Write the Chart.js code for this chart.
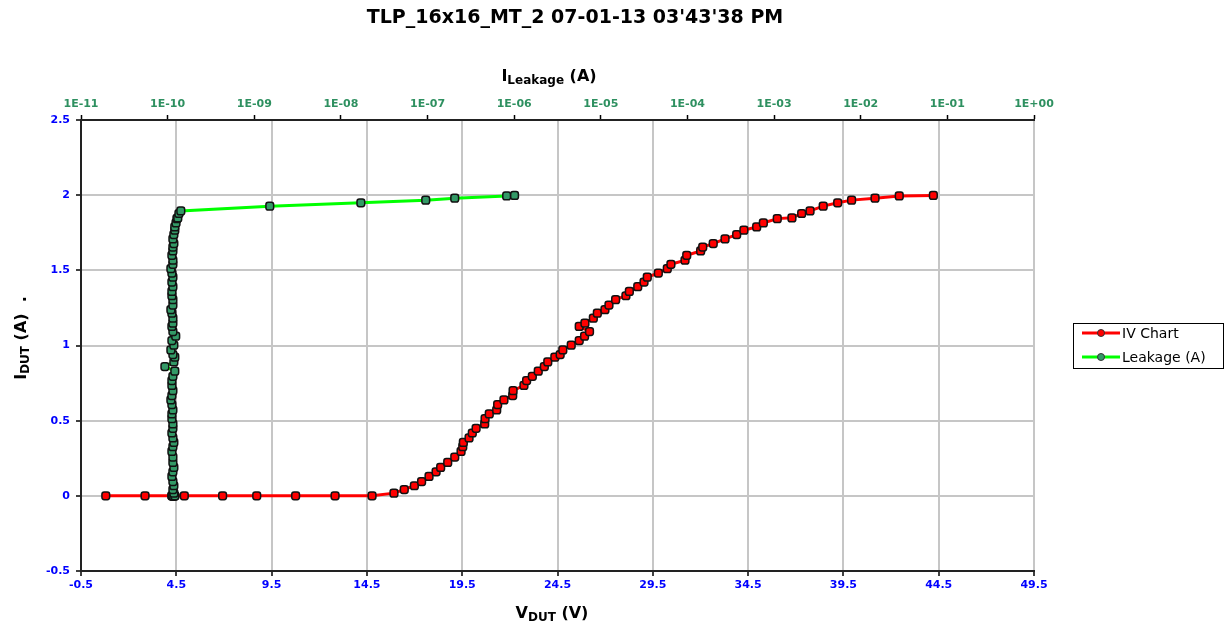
<!DOCTYPE html>
<html>
<head>
<meta charset="utf-8">
<script src="https://cdn.jsdelivr.net/npm/chart.js@4.4.0/dist/chart.umd.min.js"></script>
<style>
  html, body { margin: 0; padding: 0; background: #fff; }
</style>
</head>
<body>
<canvas id="tlpChart" width="1225" height="622"></canvas>
<script>
const chartTitle = "TLP_16x16_MT_2 07-01-13 03'43'38 PM";
const seriesNames = ['IV Chart', 'Leakage (A)'];

// VDUT (V) per pulse
const vdut = [
  0.80, 2.86, 4.34, 4.92, 6.93, 8.72, 10.76, 12.83, 14.77,
  15.92, 16.46, 16.99, 17.37, 17.76, 18.13, 18.37, 18.74, 19.11, 19.44,
  19.53, 19.56, 19.86, 20.03, 20.23, 20.68, 20.70, 20.92, 21.31, 21.36,
  21.69, 22.15, 22.17, 22.74, 22.88, 23.18, 23.49, 23.81, 23.99, 24.36,
  24.64, 24.78, 25.22, 25.64, 25.92, 26.18, 25.64, 25.94, 26.38, 26.59,
  26.99, 27.20, 27.55, 28.09, 28.27, 28.71, 29.04, 29.21, 29.79, 30.26,
  30.45, 31.19, 31.28, 32.01, 32.12, 32.67, 33.29, 33.90, 34.28, 34.95,
  35.30, 36.03, 36.80, 37.31, 37.75, 38.44, 39.20, 39.93, 41.16, 42.43, 44.22
];

// IDUT (A) per pulse
const idut = [
  0, 0, 0, 0, 0, 0, 0, 0, 0,
  0.018, 0.042, 0.067, 0.095, 0.129, 0.160, 0.189, 0.222, 0.258, 0.295,
  0.327, 0.355, 0.385, 0.418, 0.449, 0.478, 0.513, 0.545, 0.571, 0.607,
  0.638, 0.667, 0.700, 0.735, 0.767, 0.795, 0.829, 0.860, 0.891, 0.922,
  0.940, 0.971, 1.002, 1.033, 1.062, 1.093, 1.127, 1.149, 1.182, 1.215,
  1.238, 1.269, 1.305, 1.331, 1.360, 1.391, 1.422, 1.455, 1.482, 1.511,
  1.540, 1.567, 1.600, 1.629, 1.655, 1.678, 1.709, 1.738, 1.767, 1.789,
  1.815, 1.844, 1.849, 1.878, 1.895, 1.927, 1.949, 1.967, 1.980, 1.995, 1.998
];

// leakage current (A) measured after each pulse
const leakage = [
  1.15e-10, 1.18e-10, 1.12e-10, 1.21e-10, 1.15e-10, 1.18e-10, 1.12e-10, 1.15e-10, 1.21e-10,
  1.18e-10, 1.15e-10, 1.18e-10, 1.15e-10, 1.12e-10, 1.15e-10, 1.18e-10, 1.15e-10, 1.15e-10, 1.12e-10,
  1.15e-10, 1.18e-10, 1.15e-10, 1.12e-10, 1.15e-10, 1.15e-10, 1.12e-10, 1.12e-10, 1.15e-10, 1.12e-10,
  1.09e-10, 1.12e-10, 1.15e-10, 1.12e-10, 1.12e-10, 1.15e-10, 1.21e-10, 0.93e-10, 1.18e-10, 1.21e-10,
  1.15e-10, 1.09e-10, 1.18e-10, 1.12e-10, 1.24e-10, 1.15e-10, 1.12e-10, 1.15e-10, 1.15e-10, 1.12e-10,
  1.09e-10, 1.15e-10, 1.15e-10, 1.12e-10, 1.12e-10, 1.15e-10, 1.12e-10, 1.15e-10, 1.12e-10, 1.09e-10,
  1.15e-10, 1.15e-10, 1.12e-10, 1.15e-10, 1.15e-10, 1.18e-10, 1.15e-10, 1.18e-10, 1.21e-10, 1.21e-10,
  1.25e-10, 1.28e-10, 1.31e-10, 1.35e-10, 1.42e-10, 1.51e-9, 1.70e-8, 9.53e-8, 2.06e-7, 8.19e-7, 1.01e-6
];

const vTicks = [-0.5, 4.5, 9.5, 14.5, 19.5, 24.5, 29.5, 34.5, 39.5, 44.5, 49.5];
const iTicks = [-0.5, 0, 0.5, 1, 1.5, 2, 2.5];
const leakTicks = ['1E-11', '1E-10', '1E-09', '1E-08', '1E-07', '1E-06',
                   '1E-05', '1E-04', '1E-03', '1E-02', '1E-01', '1E+00'];

const FONT = 'DejaVu Sans';

// text with a subscript part, optionally rotated
function drawSubText(ctx, parts, x, y, rotate) {
    ctx.save();
    ctx.translate(x, y);
    if (rotate) ctx.rotate(-Math.PI / 2);
    let total = 0;
    parts.forEach(p => {
        ctx.font = `bold ${p[1]}px "${FONT}"`;
        total += ctx.measureText(p[0]).width;
    });
    let cx = -total / 2;
    ctx.textAlign = 'left';
    ctx.textBaseline = 'alphabetic';
    ctx.fillStyle = '#000';
    parts.forEach(p => {
        ctx.font = `bold ${p[1]}px "${FONT}"`;
        ctx.fillText(p[0], cx, p[2]);
        cx += ctx.measureText(p[0]).width;
    });
    ctx.restore();
}

const decorPlugin = {
    id: 'decor',
    afterDraw(chart) {
        const ctx = chart.ctx;
        ctx.save();

        // main title
        ctx.font = `bold 19px "${FONT}"`;
        ctx.textAlign = 'center';
        ctx.textBaseline = 'middle';
        ctx.fillStyle = '#000';
        ctx.fillText(chartTitle, 575, 18);

        // axis titles
        drawSubText(ctx, [['I', 16, 0], ['Leakage', 12, 3], [' (A)', 16, 0]], 549, 81, false);
        drawSubText(ctx, [['V', 16, 0], ['DUT', 12, 3], [' (V)', 16, 0]], 552, 618, false);
        drawSubText(ctx, [['I', 16, 0], ['DUT', 12, 3], [' (A)', 16, 0], ['  .', 16, 0]], 26, 338, true);

        // legend
        const lx = 1073, ly = 323, lw = 150, lh = 45;
        ctx.strokeStyle = '#000';
        ctx.lineWidth = 1;
        ctx.strokeRect(lx + 0.5, ly + 0.5, lw, lh);
        ctx.font = `14px "${FONT}"`;
        ctx.textAlign = 'left';
        ctx.textBaseline = 'middle';
        chart.data.datasets.forEach((ds, i) => {
            const y = ly + 10 + i * 24;
            ctx.strokeStyle = ds.borderColor;
            ctx.lineWidth = 3;
            ctx.beginPath();
            ctx.moveTo(lx + 9, y);
            ctx.lineTo(lx + 47, y);
            ctx.stroke();
            ctx.beginPath();
            ctx.arc(lx + 28, y, 3.5, 0, Math.PI * 2);
            ctx.fillStyle = ds.pointBackgroundColor;
            ctx.fill();
            ctx.lineWidth = 1;
            ctx.strokeStyle = '#333';
            ctx.stroke();
            ctx.fillStyle = '#000';
            ctx.fillText(ds.label, lx + 49, y + 1);
        });
        ctx.restore();
    }
};

const tickFont = { family: FONT, size: 11, weight: 'bold' };
const gridStyle = { color: '#c6c6c6', lineWidth: 2, tickColor: '#000', tickLength: 5, tickWidth: 1.5 };

const ctx = document.getElementById('tlpChart').getContext('2d');
new Chart(ctx, {
    type: 'scatter',
    data: {
        datasets: [
            {
                label: seriesNames[0],
                data: vdut.map((v, i) => ({ x: v, y: idut[i] })),
                xAxisID: 'x',
                yAxisID: 'y',
                showLine: true,
                borderColor: '#ff0000',
                borderWidth: 3,
                pointStyle: 'rectRounded',
                pointRadius: 4.5,
                pointBackgroundColor: '#ff0000',
                pointBorderColor: '#111',
                pointBorderWidth: 1.5,
                order: 2
            },
            {
                label: seriesNames[1],
                data: leakage.map((v, i) => ({ x: v, y: idut[i] })),
                xAxisID: 'x2',
                yAxisID: 'y',
                showLine: true,
                borderColor: '#00ff00',
                borderWidth: 3,
                pointStyle: 'rectRounded',
                pointRadius: 4.5,
                pointBackgroundColor: '#339966',
                pointBorderColor: '#111',
                pointBorderWidth: 1.5,
                order: 1
            }
        ]
    },
    options: {
        responsive: false,
        animation: false,
        layout: { padding: { left: 0, right: 191, top: 0, bottom: 0 } },
        plugins: {
            legend: { display: false },
            title: { display: false },
            tooltip: { enabled: false }
        },
        scales: {
            x: {
                type: 'linear',
                position: 'bottom',
                min: -0.5,
                max: 49.5,
                afterBuildTicks: axis => { axis.ticks = vTicks.map(v => ({ value: v })); },
                afterFit: axis => { axis.height = 51; },
                ticks: { color: '#0000ff', font: tickFont, padding: 3, autoSkip: false, maxRotation: 0,
                         callback: v => String(v) },
                grid: gridStyle,
                border: { color: '#222', width: 2 }
            },
            x2: {
                type: 'logarithmic',
                position: 'top',
                min: 1e-11,
                max: 1,
                afterBuildTicks: axis => { axis.ticks = leakTicks.map(t => ({ value: Number(t), major: true })); },
                afterFit: axis => { axis.height = 120; },
                ticks: { color: '#2e9060', font: tickFont, padding: 4, autoSkip: false, maxRotation: 0,
                         callback: (v, i) => leakTicks[i] },
                grid: { drawOnChartArea: false, tickColor: '#000', tickLength: 5, tickWidth: 1.5 },
                border: { color: '#222', width: 2 }
            },
            y: {
                type: 'linear',
                position: 'left',
                min: -0.5,
                max: 2.5,
                afterBuildTicks: axis => { axis.ticks = iTicks.map(v => ({ value: v })); },
                afterFit: axis => { axis.width = 81; },
                ticks: { color: '#0000ff', font: tickFont, padding: 6, autoSkip: false,
                         callback: v => String(v) },
                grid: gridStyle,
                border: { color: '#222', width: 2 }
            }
        }
    },
    plugins: [decorPlugin]
});
</script>
</body>
</html>
